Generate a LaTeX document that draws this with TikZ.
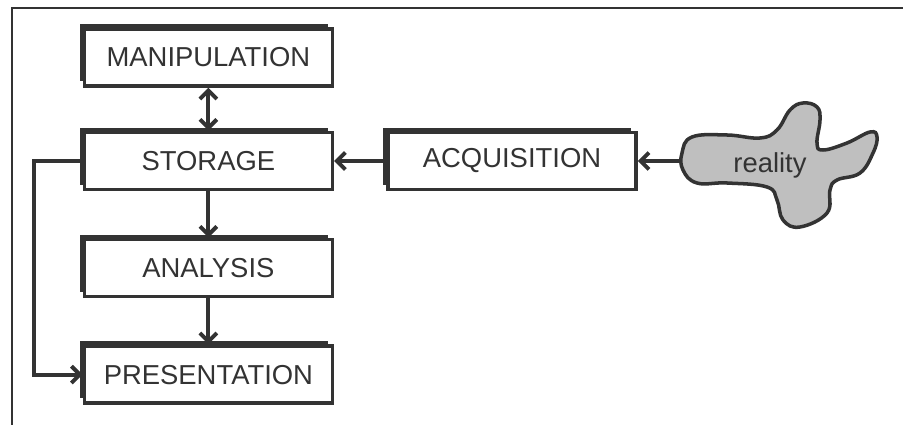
\documentclass[tikz,border=0pt]{standalone}
\usepackage{fontspec}
\setmainfont{Liberation Sans}
\usetikzlibrary{arrows.meta,shadows}
\definecolor{ink}{HTML}{333333}
\tikzset{
    >={Straight Barb[length=6pt,width=12pt]},
    stage/.style={draw=ink, line width=2.5pt, fill=white, text=ink,
        minimum width=6.2cm, minimum height=1.43cm,
        font=\fontsize{19.5}{22}\selectfont,
        general shadow={fill=ink, shadow xshift=-0.12cm, shadow yshift=0.12cm}},
    flow/.style={draw=ink, line width=2.8pt, ->},
}

\begin{document}
\begin{tikzpicture}
    \useasboundingbox (0,0) rectangle (22.575,10.625);
    % frame
    \draw[ink, line width=2pt] (22.575,10.425) -- (0.3,10.425) -- (0.3,0);

    % stages
    \node[stage] (manip) at (5.21,9.19) {MANIPULATION};
    \node[stage] (store) at (5.21,6.6) {STORAGE};
    \node[stage] (anal) at (5.21,3.925) {ANALYSIS};
    \node[stage] (pres) at (5.21,1.26) {PRESENTATION};
    \node[stage] (acq) at (12.8,6.6) {ACQUISITION};

    % reality blob
    \filldraw[draw=ink, fill=black!25, line width=2.5pt]
        plot[smooth cycle, tension=0.7] coordinates {
        (17.05,6.8) (17.3,7.2) (18.175,7.25) (19.0,7.175) (19.425,7.375)
        (19.75,7.875) (20.075,8.05) (20.425,7.95) (20.5,7.625) (20.425,7.05)
        (20.575,6.875) (21.175,7.05) (21.75,7.325) (21.925,7.2) (21.825,6.8)
        (21.5,6.3) (20.925,6.125) (20.75,5.875) (20.675,5.3) (20.0,4.95)
        (19.575,5.125) (19.425,5.625) (19.175,5.95) (18.175,6.05) (17.425,6.05)
        (17.075,6.375)};
    \node[text=ink, font=\fontsize{19.5}{22}\selectfont] (reality) at (19.25,6.5) {reality};
    \coordinate (reality edge) at (17.05,6.6);

    % connectors
    \draw[flow, <->] (manip) -- (store);
    \draw[flow] (store) -- (anal);
    \draw[flow] (anal) -- (pres);
    \draw[flow] (acq) -- (store);
    \draw[flow] (reality edge) -- (acq);
    \draw[flow] (store.west) -- ++(-1.225,0) |- (pres.west);
\end{tikzpicture}
\end{document}
